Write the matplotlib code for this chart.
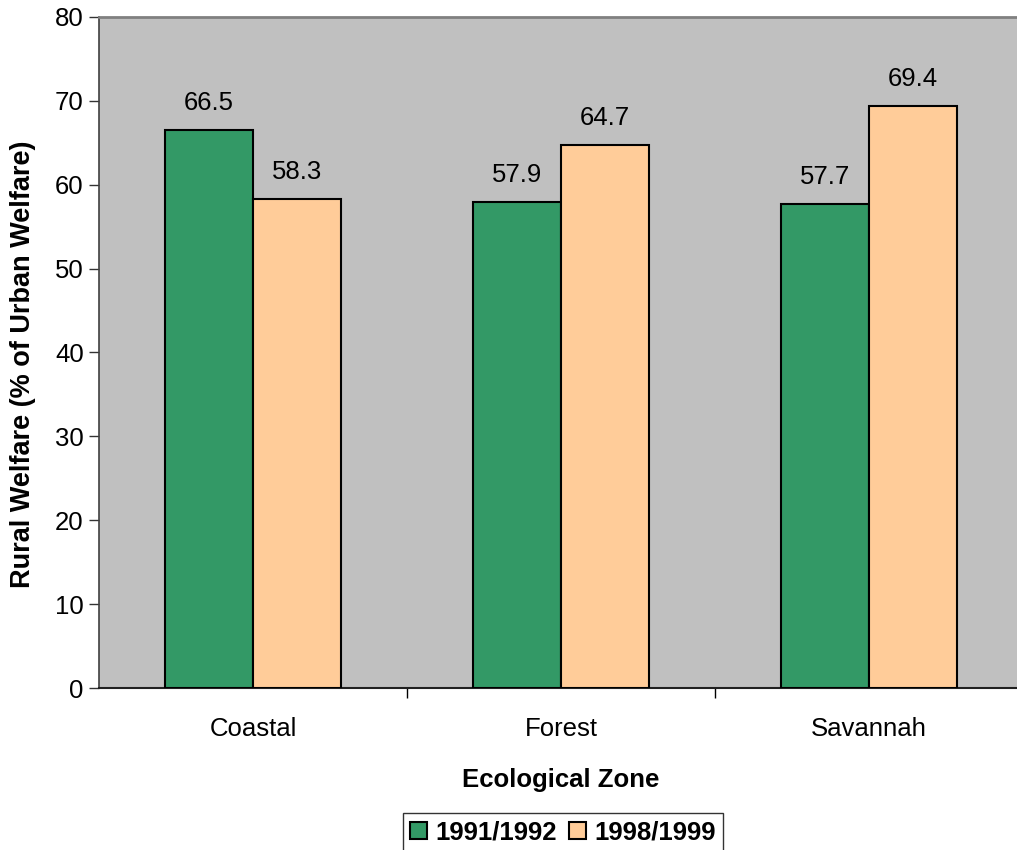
import matplotlib
matplotlib.use("Agg")
import matplotlib.pyplot as plt
from matplotlib.patches import Patch
import numpy as np

plt.rcParams['font.family'] = ['Liberation Sans', 'DejaVu Sans']

zones = ["Coastal", "Forest", "Savannah"]
series_names = ["1991/1992", "1998/1999"]
welfare_1991 = [66.5, 57.9, 57.7]
welfare_1998 = [58.3, 64.7, 69.4]
colors = ["#339966", "#FFCC99"]

FS = 18.5

fig = plt.figure(figsize=(10.17, 8.5), dpi=100)
ax = fig.add_axes([99 / 1017, 162 / 850, 924 / 1017, 671 / 850])
ax.set_facecolor("#C0C0C0")

x = np.arange(len(zones))
w = 0.286
for vals, off, col in [(welfare_1991, -w / 2, colors[0]), (welfare_1998, w / 2, colors[1])]:
    bars = ax.bar(x + off, vals, width=w, color=col, edgecolor="black", linewidth=1.5, zorder=3)
    for b, v in zip(bars, vals):
        ax.text(b.get_x() + b.get_width() / 2, v + 1.8, f"{v:.1f}",
                ha="center", va="bottom", fontsize=FS, zorder=4)

ax.set_xlim(-0.5, 2.5)
ax.set_ylim(0, 80)
ax.set_yticks(range(0, 81, 10))
ax.tick_params(axis="y", direction="out", length=7, width=1, labelsize=FS, pad=4, color="#333333")
ax.set_xticks(x)
ax.set_xticklabels(zones, fontsize=FS)
ax.tick_params(axis="x", length=0, pad=21)
ax.set_xticks([0.5, 1.5], minor=True)
ax.tick_params(axis="x", which="minor", direction="out", length=7, width=1, color="black")

ax.spines["top"].set_color("#808080")
ax.spines["top"].set_linewidth(2)
ax.spines["left"].set_color("#404040")
ax.spines["left"].set_linewidth(1.2)
ax.spines["bottom"].set_color("#202020")
ax.spines["bottom"].set_linewidth(1.5)
ax.spines["right"].set_visible(False)

ax.set_xlabel("Ecological Zone", fontsize=FS, fontweight="bold", labelpad=19)
ax.set_ylabel("Rural Welfare (% of Urban Welfare)", fontsize=19.5, fontweight="bold")
ax.yaxis.set_label_coords(-63 / 924, (688 - 364) / 671)

handles = [Patch(facecolor=c, edgecolor="black", linewidth=1.5) for c in colors]
leg = fig.legend(handles, series_names, loc="upper center", bbox_to_anchor=(563 / 1017, 1 - 813 / 850),
                 ncol=2, frameon=True, fancybox=False, edgecolor="black",
                 prop={"size": FS, "weight": "bold"}, handlelength=0.66, handleheight=0.66,
                 handletextpad=0.3, columnspacing=0.5, borderpad=0.3, borderaxespad=0)
leg.get_frame().set_linewidth(1)

fig.savefig("out.png", dpi=100)
